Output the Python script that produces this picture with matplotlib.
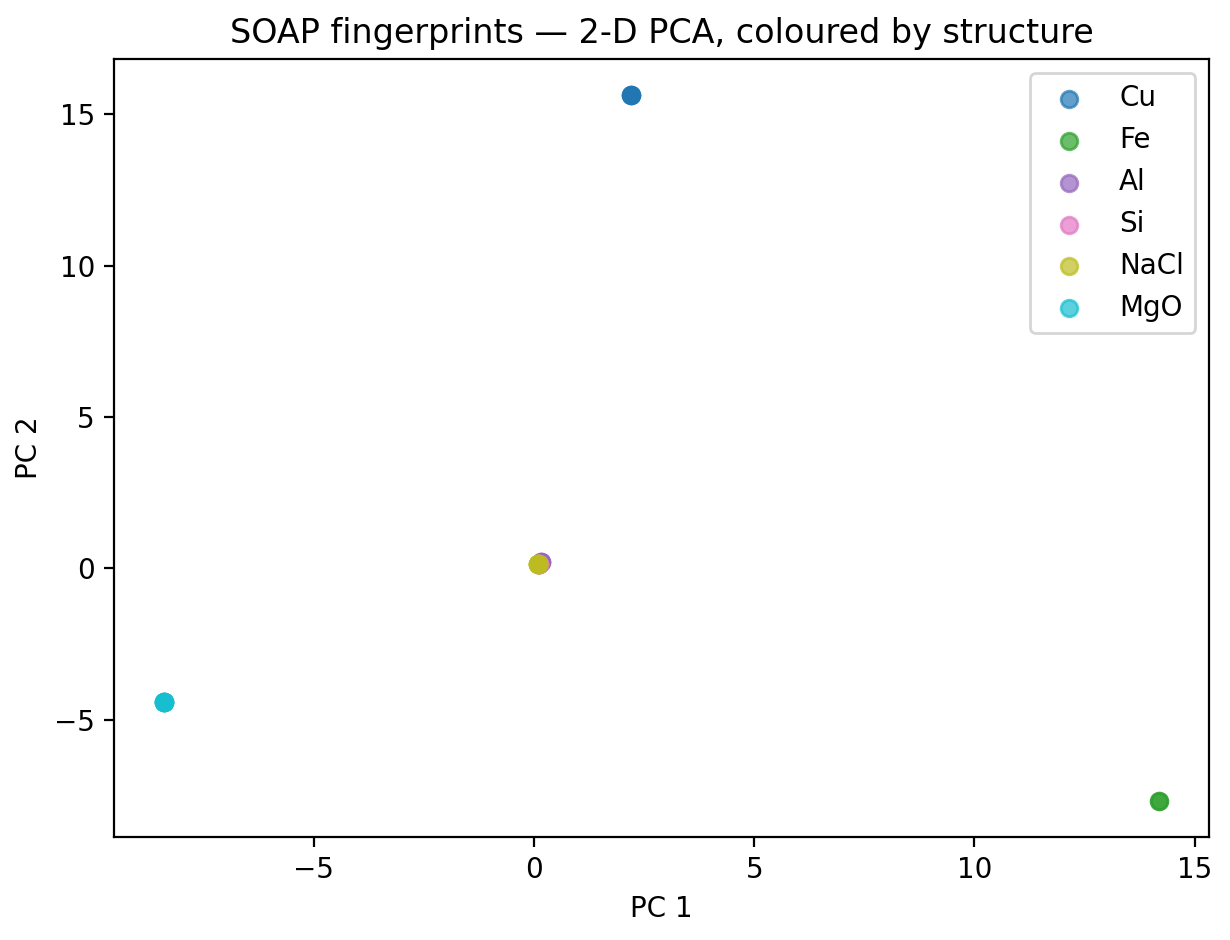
import numpy as np
import matplotlib
matplotlib.use('Agg')
import matplotlib.pyplot as plt

# PCA coordinates per structure (atoms sit on top of each other)
structures = ['Cu', 'Fe', 'Al', 'Si', 'NaCl', 'MgO']
pc1 = {
    'Cu': [2.2, 2.2, 2.2, 2.2],
    'Fe': [14.2, 14.2],
    'Al': [0.15, 0.15, 0.15, 0.15],
    'Si': [0.12, 0.12, 0.12, 0.12, 0.12, 0.12, 0.12, 0.12],
    'NaCl': [0.1, 0.1, 0.1, 0.1, 0.1, 0.1, 0.1, 0.1],
    'MgO': [-8.4, -8.4, -8.4, -8.4, -8.4, -8.4, -8.4, -8.4],
}
pc2 = {
    'Cu': [15.65, 15.65, 15.65, 15.65],
    'Fe': [-7.7, -7.7],
    'Al': [0.22, 0.22, 0.22, 0.22],
    'Si': [0.15, 0.15, 0.15, 0.15, 0.15, 0.15, 0.15, 0.15],
    'NaCl': [0.15, 0.15, 0.15, 0.15, 0.15, 0.15, 0.15, 0.15],
    'MgO': [-4.43, -4.43, -4.43, -4.43, -4.43, -4.43, -4.43, -4.43],
}

colors = plt.cm.tab10(np.linspace(0, 1, len(structures)))

fig, ax = plt.subplots(figsize=(6.15, 4.7), dpi=200)
for name, c in zip(structures, colors):
    ax.scatter(pc1[name], pc2[name], color=c, alpha=0.7, label=name)

ax.set_xlabel('PC 1')
ax.set_ylabel('PC 2')
ax.set_title('SOAP fingerprints — 2-D PCA, coloured by structure')
ax.legend()
fig.subplots_adjust(left=0.093, right=0.983, top=0.937, bottom=0.11)
plt.savefig('out.png', dpi=200)
